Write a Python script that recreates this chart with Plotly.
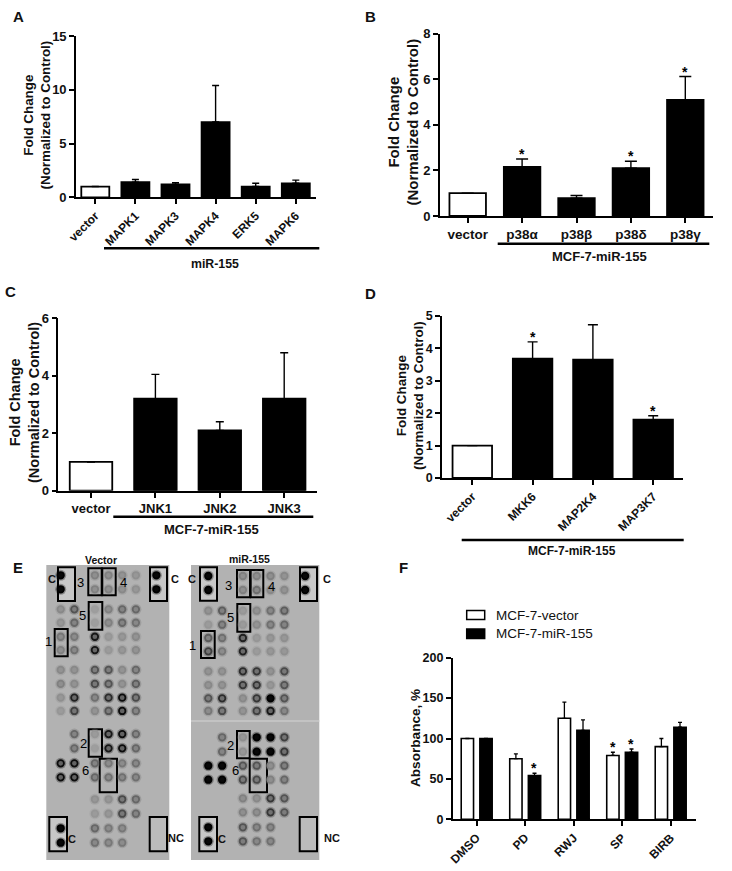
import plotly.graph_objects as go

W, H = 732, 871
FONT = "Liberation Sans"
INK = "#111111"

# ---------- data ----------
a_labels = ["vector", "MAPK1", "MAPK3", "MAPK4", "ERK5", "MAPK6"]
a_values = [1.0, 1.4, 1.2, 7.0, 1.0, 1.3]
a_errors = [0, 0.25, 0.15, 3.4, 0.3, 0.3]
a_sig = []

b_labels = ["vector", "p38α", "p38β", "p38δ", "p38γ"]
b_values = [1.0, 2.15, 0.78, 2.1, 5.1]
b_errors = [0, 0.35, 0.12, 0.3, 1.02]
b_sig = [1, 3, 4]

c_labels = ["vector", "JNK1", "JNK2", "JNK3"]
c_values = [1.0, 3.2, 2.1, 3.2]
c_errors = [0, 0.85, 0.3, 1.6]
c_sig = []

d_labels = ["vector", "MKK6", "MAP2K4", "MAP3K7"]
d_values = [1.0, 3.68, 3.65, 1.8]
d_errors = [0, 0.52, 1.08, 0.12]
d_sig = [1, 3]

f_labels = ["DMSO", "PD", "RWJ", "SP", "BIRB"]
f_vector = [100, 75, 125, 79, 90]
f_vector_err = [0, 6, 20, 4, 10]
f_mir = [100, 54, 110, 83, 114]
f_mir_err = [0, 3, 13, 4, 6]
f_vector_sig = [3]
f_mir_sig = [1, 3]

# dot blots: grid columns, grid rows and spot signal (0-1), None = no spot
blot_cols = [0, 1, 2.5, 3.5, 4.5, 5.5, 7]
vector_rows = [0, 1, 2.43, 3.39, 4.39, 5.34, 6.76, 7.76, 8.74, 9.69, 11.34, 12.36, 13.43, 14.43, 16, 17.03, 18.07, 19.1]
mir_rows = [0.05, 1.05, 2.53, 3.53, 4.48, 5.43, 6.86, 7.84, 8.79, 9.69, 11.57, 12.6, 13.6, 14.6, 15.93, 16.93, 18, 19]
N = None
vector_spots = [
    [1.0, N, .35, .35, .30, .25, 1.0],
    [1.0, N, .35, .35, .30, .25, 1.0],
    [.30, .60, .15, .35, .50, .50, N],
    [.25, .50, .15, .35, .50, .45, N],
    [.40, .40, .90, .20, .25, .30, N],
    [.35, .45, .90, .20, .25, .30, N],
    [.30, .30, .60, .60, .30, .50, N],
    [.35, .30, .65, .60, .30, .55, N],
    [.25, .85, .45, .80, .95, .65, N],
    [.20, .70, .30, .60, .95, .50, N],
    [N, .50, .20, .90, .95, .50, N],
    [N, .50, .15, .90, .95, .50, N],
    [.95, .95, .50, .40, .40, .45, N],
    [.95, .95, .50, .45, .45, .45, N],
    [N, N, .25, .25, .65, .50, N],
    [N, N, .20, .25, .65, .50, N],
    [1.0, N, .50, .40, .40, N, N],
    [1.0, N, .45, .40, .40, N, N],
]
mir_spots = [
    [1.0, N, .35, .35, .35, .30, 1.0],
    [1.0, N, .35, .45, .30, .30, 1.0],
    [.30, .55, .20, .30, .45, .55, N],
    [.20, .50, .20, .30, .45, .50, N],
    [.55, .45, .85, .20, .25, .25, N],
    [.70, .40, .85, .20, .25, .25, N],
    [.30, .30, .80, .75, .30, .65, N],
    [.30, .30, .75, .75, .25, .60, N],
    [.60, .80, .30, .75, 1.0, .60, N],
    [.40, .65, .30, .70, .90, .45, N],
    [N, .50, .25, 1.0, 1.0, .70, N],
    [N, .50, .25, 1.0, 1.0, .75, N],
    [1.0, 1.0, .60, .60, .35, .55, N],
    [1.0, 1.0, .65, .65, .35, .50, N],
    [N, N, .35, .30, .75, .60, N],
    [N, N, .35, .35, .75, .60, N],
    [1.0, N, .60, .45, .45, N, N],
    [1.0, N, .60, .45, .45, N, N],
]

# ---------- helpers ----------
def px(x): return x / W
def py(y): return 1 - y / H

fig = go.Figure()
shapes, annots = [], []

def text(x, y, s, size=12, bold=True, color=INK, angle=0, anchor="center"):
    annots.append(dict(x=px(x), y=py(y), xref="paper", yref="paper", text=s, showarrow=False,
                       xanchor=anchor, yanchor="middle", textangle=angle,
                       font=dict(family=FONT, size=size, color=color, weight=700 if bold else 400)))

def hline(x0, x1, y, w=2.5):
    shapes.append(dict(type="line", xref="paper", yref="paper", x0=px(x0), x1=px(x1), y0=py(y), y1=py(y),
                       line=dict(color="#000", width=w)))

def box(x0, y0, x1, y1, w=2, fill=None, layer="below", lc="#000"):
    shapes.append(dict(type="rect", xref="paper", yref="paper", x0=px(x0), x1=px(x1), y0=py(y0), y1=py(y1),
                       line=dict(color=lc, width=w), fillcolor=fill or "rgba(0,0,0,0)", layer=layer))

layout_axes = {}

def setup_axes(n, left, right, top, bottom, xr, ymax, yticks, labels, angle, tfs, yfs):
    sfx = "" if n == 1 else str(n)
    layout_axes["xaxis" + sfx] = dict(
        domain=[px(left), px(right)], range=xr, anchor="y" + sfx, showgrid=False, zeroline=False, automargin=False,
        showline=True, linecolor="#000", linewidth=1.6, ticks="outside", ticklen=5, tickwidth=1.5, tickcolor="#000",
        tickmode="array", tickvals=list(range(len(labels))), ticktext=labels, tickangle=angle,
        tickfont=dict(family=FONT, size=tfs, color=INK, weight=700))
    layout_axes["yaxis" + sfx] = dict(
        domain=[py(bottom), py(top)], range=[0, ymax], anchor="x" + sfx, showgrid=False, zeroline=False, automargin=False,
        showline=True, linecolor="#000", linewidth=1.6, ticks="outside", ticklen=5, tickwidth=1.5, tickcolor="#000",
        tickmode="array", tickvals=yticks, ticktext=[str(t) for t in yticks],
        tickfont=dict(family=FONT, size=yfs, color=INK, weight=700))

def stars(n, xs, ys, size=14):
    sfx = "" if n == 1 else str(n)
    for x, y in zip(xs, ys):
        annots.append(dict(x=x, y=y, xref="x" + sfx, yref="y" + sfx, text="*", showarrow=False,
                           xanchor="center", yanchor="bottom", yshift=-5,
                           font=dict(family=FONT, size=size, color="#000", weight=700)))

def bar_panel(n, left, right, top, bottom, c0, sp, barw, cap, ymax, yticks, labels, vals, errs, sig, angle, tfs, yfs):
    sfx = "" if n == 1 else str(n)
    xs = list(range(len(labels)))
    fills = ["#ffffff"] + ["#000000"] * (len(labels) - 1)
    fig.add_trace(go.Bar(x=xs, y=vals, width=barw / sp, marker=dict(color=fills, line=dict(color="#000", width=1.8)),
                         error_y=dict(type="data", symmetric=False, array=errs, arrayminus=[0] * len(errs),
                                      color="#000", thickness=1.4, width=cap),
                         xaxis="x" + sfx, yaxis="y" + sfx, showlegend=False))
    setup_axes(n, left, right, top, bottom, [(left - c0) / sp, (right - c0) / sp], ymax, yticks, labels, angle, tfs, yfs)
    if sig:
        stars(n, sig, [vals[i] + errs[i] for i in sig])

# ---------- panels A-D ----------
bar_panel(1, 76, 316, 36, 197.3, 95.3, 40.1, 28, 3.5, 15, [0, 5, 10, 15], a_labels, a_values, a_errors, a_sig, -45, 12, 13)
bar_panel(2, 440, 713, 33.7, 216, 467.7, 54.4, 36.5, 6, 8, [0, 2, 4, 6, 8], b_labels, b_values, b_errors, b_sig, 0, 13.5, 13)
bar_panel(3, 58.3, 316.7, 318.3, 490.7, 91, 64.4, 42.5, 4, 6, [0, 2, 4, 6], c_labels, c_values, c_errors, c_sig, 0, 13, 13)
bar_panel(4, 442, 683.3, 316, 478, 472.3, 60.3, 39.5, 5, 5, [0, 1, 2, 3, 4, 5], d_labels, d_values, d_errors, d_sig, -45, 12, 12.5)

# ---------- panel F ----------
fig.add_trace(go.Bar(x=list(range(5)), y=f_vector, name="MCF-7-vector",
                     marker=dict(color="#fff", line=dict(color="#000", width=1.6)),
                     error_y=dict(type="data", symmetric=False, array=f_vector_err, arrayminus=[0] * 5,
                                  color="#000", thickness=1.3, width=2),
                     xaxis="x5", yaxis="y5", showlegend=False))
fig.add_trace(go.Bar(x=list(range(5)), y=f_mir, name="MCF-7-miR-155",
                     marker=dict(color="#000", line=dict(color="#000", width=1.6)),
                     error_y=dict(type="data", symmetric=False, array=f_mir_err, arrayminus=[0] * 5,
                                  color="#000", thickness=1.3, width=2),
                     xaxis="x5", yaxis="y5", showlegend=False))
F_L, F_R, F_C0, F_SP = 452.7, 696, 476.7, 48.5
setup_axes(5, F_L, F_R, 657.7, 819.3, [(F_L - F_C0) / F_SP, (F_R - F_C0) / F_SP], 200,
           [0, 50, 100, 150, 200], f_labels, -45, 12, 12.5)
stars(5, [i - 0.19 for i in f_vector_sig] + [i + 0.19 for i in f_mir_sig],
      [f_vector[i] + f_vector_err[i] for i in f_vector_sig] + [f_mir[i] + f_mir_err[i] for i in f_mir_sig])

# ---------- panel E: dot blots ----------
def gray(v):
    v = int(max(0, min(255, v)))
    return f"rgb({v},{v},{v})"

def blot(n, left, right, top, bottom, x0, xu, rows, spots, bg):
    sfx = str(n)
    shapes.append(dict(type="rect", xref="paper", yref="paper", x0=px(left), x1=px(right), y0=py(top), y1=py(bottom),
                       fillcolor=bg, line=dict(width=0), layer="below"))
    xs, ys, ring, core = [], [], [], []
    for r, row in zip(rows, spots):
        for c, s in zip(blot_cols, row):
            if s is None:
                continue
            xs.append(c); ys.append(r)
            ring.append(gray(172 * (1 - s ** 1.3)))
            core.append(gray(8) if s >= 0.97 else gray(170 - 75 * s))
    # soft halo under each spot, then the spot itself
    fig.add_trace(go.Scatter(x=xs, y=ys, mode="markers", xaxis="x" + sfx, yaxis="y" + sfx, showlegend=False,
                             marker=dict(size=11, color=ring, opacity=0.3, line=dict(width=0))))
    fig.add_trace(go.Scatter(x=xs, y=ys, mode="markers", xaxis="x" + sfx, yaxis="y" + sfx, showlegend=False,
                             marker=dict(size=6.5, color=core, line=dict(color=ring, width=1.8))))
    layout_axes["xaxis" + sfx] = dict(domain=[px(left), px(right)], range=[(left - x0) / xu, (right - x0) / xu],
                                      visible=False, anchor="y" + sfx, automargin=False)
    layout_axes["yaxis" + sfx] = dict(domain=[py(bottom), py(top)],
                                      range=[(bottom - 575.3) / 14, (top - 575.3) / 14],
                                      visible=False, anchor="x" + sfx, automargin=False)

blot(6, 46.3, 169.3, 565, 860, 60.7, 13.67, vector_rows, vector_spots, "#b2b2b2")
blot(7, 191, 319.3, 565, 860, 208.3, 13.83, mir_rows, mir_spots, "#b2b2b2")
hl = "rgba(255,255,255,0.28)"
hl_nc = "rgba(255,255,255,0.12)"
shapes.append(dict(type="line", xref="paper", yref="paper", x0=px(191), x1=px(319.3), y0=py(721), y1=py(721),
                   line=dict(color="#c8c8c8", width=1.5), layer="below"))

# vector boxes
box(58, 567.3, 75, 601, fill=hl)
box(150, 567.3, 167, 601, fill=hl)
box(88.3, 568.3, 101.7, 595.3); box(102.3, 568.3, 115.7, 595.3)
box(88.7, 602, 102.3, 629.7); box(54.7, 629, 67.7, 656.3)
box(88.7, 729.3, 102, 756.7); box(99.7, 758.7, 117, 792.3)
box(49.3, 817, 67, 851.3, fill=hl); box(149.7, 817, 167, 851.3, fill=hl_nc)
# miR-155 boxes
box(200, 567.3, 217, 600.7, fill=hl)
box(300, 567.3, 317, 601, fill=hl)
box(237, 570, 250, 597.3); box(250.7, 570, 263.3, 597.3)
box(237.3, 604, 250.3, 631.7); box(201, 631, 214.7, 658)
box(237, 731, 249.7, 758.3); box(249.7, 758.7, 267, 792.3)
box(199.3, 817, 217, 851.3, fill=hl); box(299.7, 817, 317, 851.3, fill=hl_nc)

# blot labels
text(100.7, 560, "Vector", 10.5)
text(249.7, 559.3, "miR-155", 10.5)
for x, y, s in [(52, 579, "C"), (174.7, 579, "C"), (72.3, 839, "C"), (192, 579, "C"), (327, 579, "C"), (222.3, 839, "C"),
                (176, 838, "NC"), (331.7, 838, "NC")]:
    text(x, y, s, 11)
for x, y, s in [(80, 582, "3"), (123, 582, "4"), (82.7, 615, "5"), (48, 641.7, "1"), (83, 743.3, "2"), (85.7, 770.7, "6"),
                (228, 585.3, "3"), (271, 586, "4"), (230.3, 617.7, "5"), (192.7, 645, "1"), (230.7, 745.7, "2"), (235.7, 770.7, "6")]:
    text(x, y, s, 13, bold=False, color="#000")

# ---------- titles, group lines, panel letters ----------
FC = "Fold Change<br>(Normalized to Control)"
text(36.5, 115, FC, 13.4, angle=-90)
text(403.5, 122, FC, 15, angle=-90)
text(24, 403, FC, 14.5, angle=-90)
text(410, 395, FC, 13.4, angle=-90)
text(415, 738, "Absorbance, %", 13.6, angle=-90)

hline(104, 319.3, 248.3); text(215, 264, "miR-155", 12.3)
hline(497.7, 709.3, 243.7); text(599.3, 256.7, "MCF-7-miR-155", 13)
hline(113.3, 313.3, 516.7); text(211.7, 529.3, "MCF-7-miR-155", 13)
hline(461.7, 683.7, 540); text(571.7, 550.7, "MCF-7-miR-155", 12)

for x, y, s in [(18, 17, "A"), (371, 17, "B"), (10, 292, "C"), (371, 293, "D"), (18, 567, "E"), (404, 567, "F")]:
    text(x, y, s, 15)

# panel F key
box(466.7, 610.5, 484.7, 619.5, w=1.5)
box(466.7, 629, 484.7, 638.5, w=1.5, fill="#000")
text(494, 615, "MCF-7-vector", 13.5, bold=False, anchor="left")
text(494, 633.5, "MCF-7-miR-155", 13.5, bold=False, anchor="left")

fig.update_layout(width=W, height=H, margin=dict(l=0, r=0, t=0, b=0, pad=0), autosize=False,
                  paper_bgcolor="#fff", plot_bgcolor="rgba(0,0,0,0)", barmode="group", bargap=0.232,
                  bargroupgap=0.339, showlegend=False, shapes=shapes, annotations=annots, **layout_axes)

fig.write_html("out.html", config={"displayModeBar": False},
               post_script="document.body.style.margin='0';document.body.style.overflow='hidden';")
